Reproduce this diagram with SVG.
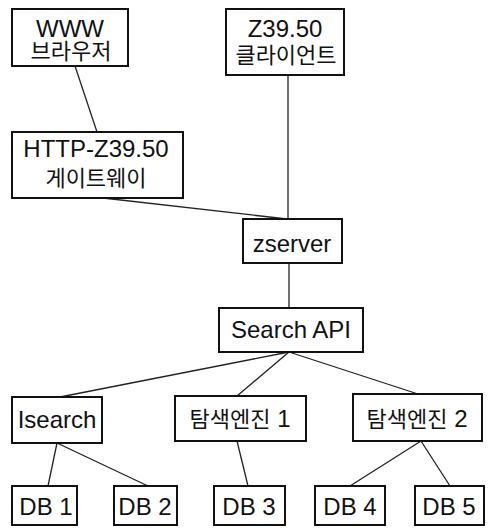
<svg xmlns="http://www.w3.org/2000/svg" width="492" height="528" viewBox="0 0 492 528">
<style>
.box{fill:#fff;stroke:#111;stroke-width:2}
.t{font-family:"Liberation Sans","Noto Sans CJK KR",Arial,sans-serif;font-size:24px;fill:#111;text-anchor:middle}
.k{font-family:"Noto Sans CJK KR","Liberation Sans",sans-serif;font-size:22px}
.c line{stroke:#222;stroke-width:1.3}
</style>
<rect width="492" height="528" fill="#fff"/>
<g class="c" id="connectors">
<line x1="75" y1="66" x2="97" y2="132"/>
<line x1="288" y1="75" x2="288" y2="219"/>
<line x1="103" y1="198" x2="287" y2="219"/>
<line x1="289" y1="263" x2="289" y2="308"/>
<line x1="289" y1="352" x2="60" y2="397"/>
<line x1="289" y1="352" x2="237" y2="396"/>
<line x1="289" y1="352" x2="418" y2="394"/>
<line x1="57" y1="443" x2="48" y2="486"/>
<line x1="57" y1="443" x2="148" y2="486"/>
<line x1="237" y1="441" x2="248" y2="486"/>
<line x1="421" y1="441" x2="350" y2="486"/>
<line x1="421" y1="441" x2="450" y2="486"/>
</g>
<g id="www"><rect class="box" x="12" y="9" width="116" height="57"/><text class="t" x="70" y="37">WWW</text><text class="t k" x="71" y="59">브라우저</text></g>
<g id="z3950client"><rect class="box" x="226" y="9" width="118" height="66"/><text class="t" x="285" y="37">Z39.50</text><text class="t k" x="286" y="63">클라이언트</text></g>
<g id="gateway"><rect class="box" x="12" y="132" width="171" height="66"/><text class="t" x="96" y="157">HTTP-Z39.50</text><text class="t k" x="96" y="186">게이트웨이</text></g>
<g id="zserver"><rect class="box" x="243" y="219" width="99" height="44"/><text class="t" x="292" y="252">zserver</text></g>
<g id="searchapi"><rect class="box" x="219" y="308" width="144" height="44"/><text class="t" x="291" y="338">Search API</text></g>
<g id="isearch"><rect class="box" x="12" y="397" width="90" height="46"/><text class="t" x="57" y="428">Isearch</text></g>
<g id="engine1"><rect class="box" x="175" y="396" width="131" height="45"/><text class="t" x="240" y="427"><tspan class="k">탐색엔진</tspan> 1</text></g>
<g id="engine2"><rect class="box" x="353" y="394" width="129" height="47"/><text class="t" x="417" y="427"><tspan class="k">탐색엔진</tspan> 2</text></g>
<g id="db1"><rect class="box" x="12" y="486" width="65" height="39"/><text class="t" x="46" y="515">DB 1</text></g>
<g id="db2"><rect class="box" x="114" y="486" width="63" height="39"/><text class="t" x="145" y="515">DB 2</text></g>
<g id="db3"><rect class="box" x="214" y="486" width="71" height="39"/><text class="t" x="249" y="515">DB 3</text></g>
<g id="db4"><rect class="box" x="315" y="486" width="70" height="39"/><text class="t" x="350" y="515">DB 4</text></g>
<g id="db5"><rect class="box" x="415" y="486" width="69" height="39"/><text class="t" x="449" y="515">DB 5</text></g>
</svg>
